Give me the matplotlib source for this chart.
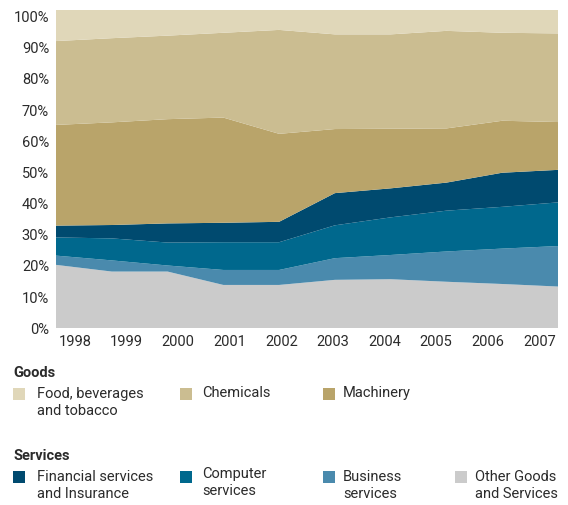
import matplotlib
matplotlib.use("Agg")
import matplotlib.pyplot as plt
from matplotlib.patches import Rectangle

years = [1998, 1999, 2000, 2001, 2002, 2003, 2004, 2005, 2006, 2007]

# Shares in %, stacked bottom to top
other_goods_services = [19.9, 17.8, 17.8, 13.6, 13.6, 15.2, 15.4, 14.6, 13.9, 13.1]
business_services = [2.9, 3.5, 1.9, 4.7, 4.7, 6.8, 7.6, 9.5, 11.1, 12.7]
computer_services = [5.7, 6.9, 7.2, 8.7, 8.7, 10.3, 11.8, 12.8, 13.1, 13.7]
financial_insurance = [3.7, 4.2, 6.0, 6.1, 6.4, 10.1, 9.1, 8.8, 10.7, 10.2]
machinery = [31.6, 32.2, 32.7, 33.0, 27.6, 20.1, 18.7, 17.0, 16.3, 15.0]
chemicals = [26.3, 26.4, 26.2, 26.6, 32.6, 29.7, 29.6, 30.6, 27.6, 27.8]
food_bev_tobacco = [9.9, 9.0, 8.2, 7.3, 6.4, 7.8, 7.8, 6.7, 7.3, 7.5]

y_ticks = [0, 10, 20, 30, 40, 50, 60, 70, 80, 90, 100]
y_tick_labels = [f"{t}%" for t in y_ticks]

goods_labels = ["Food, beverages\nand tobacco", "Chemicals", "Machinery"]
services_labels = ["Financial services\nand Insurance", "Computer\nservices",
                   "Business\nservices", "Other Goods\nand Services"]

c_food = "#e0d7b9"
c_chem = "#cbbd91"
c_mach = "#b9a46a"
c_fin = "#004a6f"
c_comp = "#00688d"
c_bus = "#4a8aad"
c_other = "#cbcbcb"

text_color = "#2b2b2b"
plt.rcParams["font.family"] = ["Roboto", "DejaVu Sans"]

fig = plt.figure(figsize=(5.68, 5.05), dpi=100)
ax = fig.add_axes([56 / 568, 1 - 328.3 / 505, 502 / 568, 318.8 / 505])

series = [other_goods_services, business_services, computer_services,
          financial_insurance, machinery, chemicals, food_bev_tobacco]
colors = [c_other, c_bus, c_comp, c_fin, c_mach, c_chem, c_food]
ax.stackplot(years, *series, colors=colors, linewidth=0, edgecolor="none")

ax.set_xlim(years[0], years[-1])
ax.set_ylim(0, 100)
for s in ax.spines.values():
    s.set_visible(False)
ax.set_xticks([])
ax.set_yticks([])

# Label axes (labels inset from the data area as in the reference)
kx, offx = 55.78 / 51.6, 0.368
secx = ax.secondary_xaxis(
    "bottom",
    functions=(lambda x: years[0] + (x - years[0]) * kx - offx,
               lambda u: years[0] + (u - years[0] + offx) / kx))
secx.set_xticks(years)
secx.set_xticklabels([str(y) for y in years])
secx.tick_params(length=0, pad=5, labelsize=10.5, colors=text_color)
for s in secx.spines.values():
    s.set_visible(False)

ky = 1.0225
secy = ax.secondary_yaxis("left", functions=(lambda v: v * ky, lambda v: v / ky))
secy.set_yticks(y_ticks)
secy.set_yticklabels(y_tick_labels)
secy.tick_params(length=0, pad=5, labelsize=10.5, colors=text_color)
for s in secy.spines.values():
    s.set_visible(False)

# Legend (manual layout)
W, H = 568, 505


def fx(px):
    return px / W


def fy(py):
    return 1 - py / H


fig.text(fx(13), fy(373), "Goods", fontsize=10.5, fontweight="bold",
         color=text_color, va="center", ha="left")
fig.text(fx(13), fy(456), "Services", fontsize=10.5, fontweight="bold",
         color=text_color, va="center", ha="left")

goods_colors = [c_food, c_chem, c_mach]
services_colors = [c_fin, c_comp, c_bus, c_other]
sq_x = [13, 180, 323, 455]
txt_x = [37, 202, 343, 475]


def add_item(i, row_top, text_top, color, label):
    fig.add_artist(Rectangle((fx(sq_x[i]), fy(row_top + 12)), 12 / W, 12 / H,
                             transform=fig.transFigure, facecolor=color,
                             edgecolor="none"))
    fig.text(fx(txt_x[i]), fy(text_top), label, fontsize=10.5, color=text_color,
             va="top", ha="left", linespacing=1.25)


for i, (c, l) in enumerate(zip(goods_colors, goods_labels)):
    add_item(i, 388, 386 if i else 387, c, l)
for i, (c, l) in enumerate(zip(services_colors, services_labels)):
    add_item(i, 471, 467 if i == 1 else 470, c, l)

fig.savefig("out.png", dpi=100)
